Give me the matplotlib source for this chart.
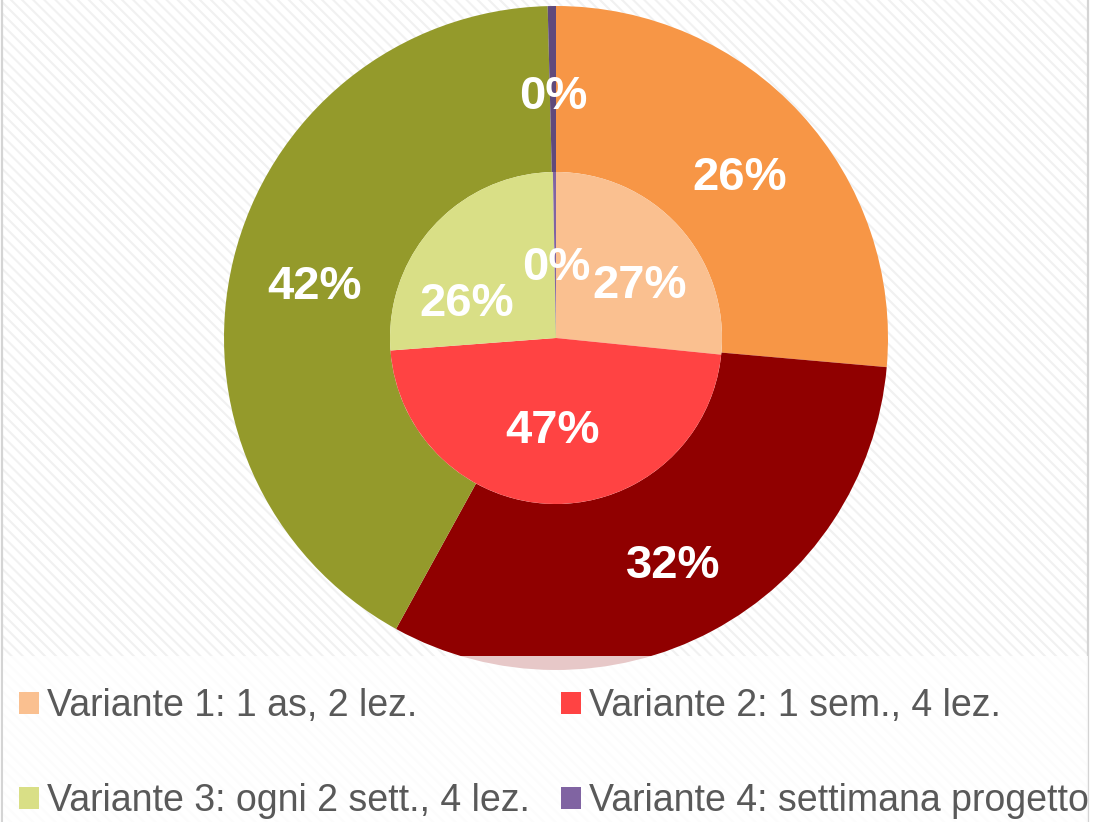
import numpy as np
import matplotlib
matplotlib.use("Agg")
import matplotlib.pyplot as plt
from matplotlib.patches import Rectangle
from matplotlib.lines import Line2D

W, H = 1112, 822

# outer ring and inner pie shares (percent), clockwise from top
labels = ["Variante 1: 1 as, 2 lez.", "Variante 2: 1 sem., 4 lez.",
          "Variante 3: ogni 2 sett., 4 lez.", "Variante 4: settimana progetto"]
outer_vals = [26.4, 31.6, 41.6, 0.4]
inner_vals = [26.6, 47.2, 25.9, 0.3]

outer_colors = ["#F79646", "#900000", "#949A2B", "#604A7B"]
inner_colors = ["#FAC090", "#FF4343", "#D9DF86", "#8064A2"]

plt.rcParams['font.family'] = ['Liberation Sans', 'DejaVu Sans']
plt.rcParams['hatch.color'] = '#F1F1F1'
plt.rcParams['hatch.linewidth'] = 1.5

fig = plt.figure(figsize=(W / 100, H / 100), dpi=100)
fig.patch.set_facecolor('white')

# hatched chart area background with thin side borders
bg = Rectangle((3 / W, 0), 1085 / W, 1, transform=fig.transFigure,
               facecolor='white', hatch='\\\\\\', linewidth=0, zorder=-2)
fig.patches.append(bg)
for xb in (2, 1088):
    fig.lines.append(Line2D([xb / W, xb / W], [0, 1], transform=fig.transFigure,
                            color='#D4D4D4', linewidth=1.6, zorder=-1))

ax = fig.add_axes([0, 0, 1, 1])
ax.patch.set_alpha(0)

cx, cy = 556, H - 338
R = 332

wo, _, to = ax.pie(outer_vals, radius=R, center=(cx, cy), startangle=90,
                   counterclock=False, colors=outer_colors,
                   autopct='%1.0f%%', pctdistance=0.75,
                   wedgeprops=dict(width=R / 2, edgecolor='none'))
wi, _, ti = ax.pie(inner_vals, radius=R / 2, center=(cx, cy), startangle=90,
                   counterclock=False, colors=inner_colors,
                   autopct='%1.0f%%', pctdistance=0.6,
                   wedgeprops=dict(edgecolor='none'))

# Excel drops the labels a little below the slice midpoint
for t in to:
    x, y = t.get_position()
    t.set_position((x, y - 8))

# inner labels: (fraction of radius, degrees clockwise from top)
inner_label_pos = [(0.595, 58), (0.56, 182), (0.574, 291), (0.42, 0)]
for t, (d, a) in zip(ti, inner_label_pos):
    ang = np.deg2rad(a)
    t.set_position((cx + d * R / 2 * np.sin(ang), cy + d * R / 2 * np.cos(ang)))

for t in list(to) + list(ti):
    t.set_color('white')
    t.set_fontsize(34)
    t.set_fontweight('bold')

ax.set_xlim(0, W)
ax.set_ylim(0, H)
ax.set_axis_off()

# translucent legend panel at the bottom
fig.patches.append(Rectangle((3 / W, 0), 1085 / W, 166 / H, transform=fig.transFigure,
                             facecolor='white', alpha=0.79, linewidth=0, zorder=3))

order = [0, 2, 1, 3]
leg = fig.legend([wi[i] for i in order], [labels[i] for i in order],
                 loc='upper left', bbox_to_anchor=(19 / W, 1 - 688 / H),
                 ncol=2, frameon=False, fontsize=27, handlelength=0.53,
                 handleheight=0.53, handletextpad=0.22, columnspacing=0.82,
                 labelspacing=1.58, borderpad=0, borderaxespad=0)
leg.set_zorder(4)
for txt in leg.get_texts():
    txt.set_color('#595959')

fig.savefig('out.png', dpi=100)
